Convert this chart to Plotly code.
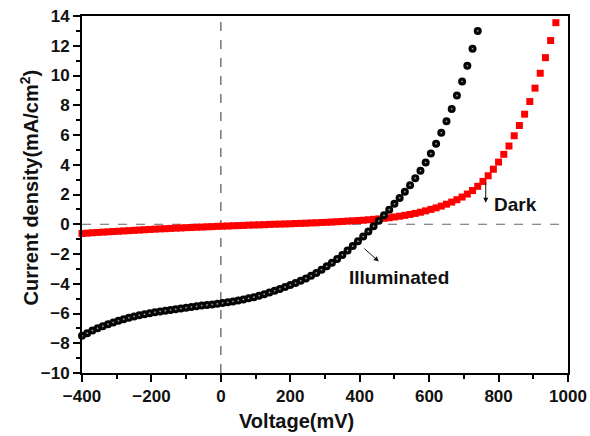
import plotly.graph_objects as go

# Illuminated J-V sweep (mV, mA/cm^2)
v_light = [-400, -385, -370, -355, -340, -325, -310, -295, -280, -265, -250, -235, -220, -205,
           -190, -175, -160, -145, -130, -115, -100, -85, -70, -55, -40, -25, -10, 5, 20, 35,
           50, 65, 80, 95, 110, 125, 140, 155, 170, 185, 200, 215, 230, 245, 260, 275, 290,
           305, 320, 335, 350, 365, 380, 395, 410, 425, 440, 455, 470, 485, 500, 515, 530,
           545, 560, 575, 590, 605, 620, 635, 650, 665, 680, 695, 710, 725, 740]
j_light = [-7.50, -7.32, -7.15, -6.99, -6.85, -6.72, -6.60, -6.49, -6.38, -6.29, -6.20, -6.12,
           -6.05, -5.98, -5.92, -5.86, -5.81, -5.76, -5.71, -5.66, -5.61, -5.56, -5.52, -5.47,
           -5.43, -5.39, -5.35, -5.30, -5.25, -5.19, -5.13, -5.06, -4.98, -4.90, -4.80, -4.70,
           -4.59, -4.47, -4.35, -4.22, -4.09, -3.95, -3.80, -3.64, -3.46, -3.27, -3.06, -2.83,
           -2.59, -2.33, -2.06, -1.77, -1.47, -1.15, -0.82, -0.48, -0.13, 0.23, 0.60, 0.98,
           1.37, 1.77, 2.19, 2.63, 3.10, 3.60, 4.15, 4.75, 5.42, 6.15, 6.92, 7.75, 8.65, 9.60,
           10.65, 11.80, 13.00]

# Dark J-V sweep (mV, mA/cm^2)
v_dark = [-400, -385, -370, -355, -340, -325, -310, -295, -280, -265, -250, -235, -220, -205,
          -190, -175, -160, -145, -130, -115, -100, -85, -70, -55, -40, -25, -10, 5, 20, 35,
          50, 65, 80, 95, 110, 125, 140, 155, 170, 185, 200, 215, 230, 245, 260, 275, 290,
          305, 320, 335, 350, 365, 380, 395, 410, 425, 440, 455, 470, 485, 500, 515, 530,
          545, 560, 575, 590, 605, 620, 635, 650, 665, 680, 695, 710, 725, 740, 755, 770,
          785, 800, 815, 830, 845, 860, 875, 890, 905, 920, 935, 950, 965]
j_dark = [-0.62, -0.60, -0.57, -0.55, -0.53, -0.51, -0.49, -0.47, -0.45, -0.43, -0.41, -0.39,
          -0.37, -0.35, -0.33, -0.31, -0.30, -0.28, -0.26, -0.25, -0.23, -0.22, -0.20, -0.19,
          -0.17, -0.16, -0.14, -0.13, -0.12, -0.10, -0.09, -0.08, -0.06, -0.05, -0.04, -0.03,
          -0.01, 0.00, 0.01, 0.02, 0.03, 0.05, 0.06, 0.07, 0.09, 0.10, 0.12, 0.13, 0.15, 0.17,
          0.19, 0.21, 0.23, 0.25, 0.27, 0.30, 0.33, 0.36, 0.40, 0.44, 0.49, 0.54, 0.60, 0.66,
          0.73, 0.81, 0.90, 1.00, 1.10, 1.22, 1.35, 1.49, 1.65, 1.83, 2.03, 2.27, 2.55, 2.88,
          3.26, 3.70, 4.18, 4.70, 5.26, 5.95, 6.64, 7.40, 8.25, 9.15, 10.15, 11.20, 12.35, 13.55]

x_range = [-400, 1000]
y_range = [-10, 14]

FONT = "Liberation Sans, Arial, sans-serif"

fig = go.Figure()

fig.add_trace(go.Scatter(
    x=v_dark, y=j_dark, mode="markers", name="Dark", cliponaxis=False,
    marker=dict(symbol="square", size=7, color="#ff0000", line=dict(width=0)),
))
# black spheres: dark body plus a small shine in the middle
fig.add_trace(go.Scatter(
    x=v_light, y=j_light, mode="markers", name="Illuminated", cliponaxis=False,
    marker=dict(symbol="circle", size=8, color="#050505", line=dict(width=0)),
))
fig.add_trace(go.Scatter(
    x=v_light, y=j_light, mode="markers", name="Illuminated", cliponaxis=False,
    hoverinfo="skip",
    marker=dict(symbol="circle", size=2.6, color="#1a1a1a", line=dict(width=0),
                gradient=dict(type="radial", color="#bdbdbd")),
))

# dashed reference lines through the origin
fig.add_shape(type="line", x0=x_range[0], x1=x_range[1], y0=0, y1=0, layer="below",
              line=dict(color="#666666", width=1.2, dash="dash"))
fig.add_shape(type="line", x0=0, x1=0, y0=y_range[0], y1=y_range[1], layer="below",
              line=dict(color="#555555", width=1.2, dash="dash"))

axis_common = dict(
    showline=True, linecolor="black", linewidth=2, mirror=True,
    ticks="outside", ticklen=7, tickwidth=2, tickcolor="black",
    showgrid=False, zeroline=False, automargin=False,
    tickfont=dict(family=FONT, size=17, color="#111111", weight="bold"),
)

fig.update_xaxes(range=x_range, tick0=-400, dtick=200,
                 minor=dict(ticks="outside", ticklen=4, tickwidth=2, tickcolor="black", dtick=100),
                 **axis_common)
fig.update_yaxes(range=y_range, tick0=-10, dtick=2,
                 minor=dict(ticks="outside", ticklen=4, tickwidth=2, tickcolor="black", dtick=1),
                 **axis_common)

title_font = dict(family=FONT, size=20, color="#111111", weight="bold")
label_font = dict(family=FONT, size=19, color="#111111", weight="bold")

fig.add_annotation(text="Voltage(mV)", xref="paper", yref="paper", x=0.442, y=-0.134,
                   xanchor="center", yanchor="middle", showarrow=False, font=title_font)
fig.add_annotation(text="Current density(mA/cm<sup>2</sup>)", xref="paper", yref="paper",
                   x=-0.109, y=0.52, xanchor="center", yanchor="middle", textangle=-90,
                   showarrow=False, font=title_font)

# curve labels with pointer arrows
fig.add_annotation(text="Dark", x=780, y=1.35, xanchor="left", yanchor="middle",
                   showarrow=False, font=label_font)
fig.add_annotation(text="", x=763, y=1.45, ax=763, ay=2.9, axref="x", ayref="y",
                   showarrow=True, arrowhead=2, arrowsize=1, arrowwidth=1, arrowcolor="#111111")
fig.add_annotation(text="Illuminated", x=363, y=-3.6, xanchor="left", yanchor="middle",
                   showarrow=False, font=label_font)
fig.add_annotation(text="", x=455, y=-2.5, ax=409, ay=-1.55, axref="x", ayref="y",
                   showarrow=True, arrowhead=2, arrowsize=1, arrowwidth=1, arrowcolor="#111111")

fig.update_layout(
    width=590, height=436,
    margin=dict(l=82, r=22, t=16, b=63),
    paper_bgcolor="white", plot_bgcolor="white",
    showlegend=False,
)

fig.write_html("out.html")
